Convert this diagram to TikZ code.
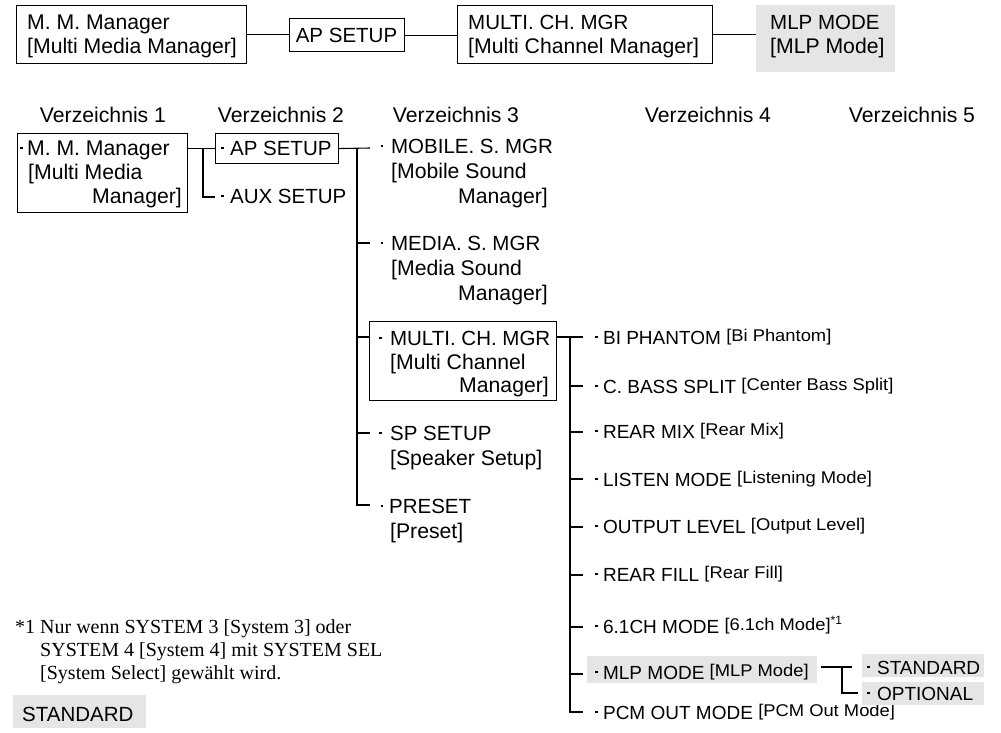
\documentclass[tikz,border=0pt]{standalone}
\usepackage{fontspec}
\setmainfont{Liberation Sans}
\newfontfamily\brfont[FakeStretch=1.08]{Liberation Sans}
\newfontfamily\ftnfont{Liberation Serif}
\definecolor{boxgray}{RGB}{229,229,229}
\newcommand\fm{\fontsize{20.5}{24}\selectfont}
\newcommand\fl{\fontsize{21.2}{24}\selectfont}
\newcommand\ff{\fontsize{19}{23}\selectfont}
\newcommand\fb{\brfont\fontsize{17}{19}\selectfont}
\newcommand\bul[1]{\rule[5.6pt]{2.6pt}{2.6pt}\hspace{#1pt}}
\newcommand\br[1]{\raisebox{2.5pt}{\fb[#1]}}
\begin{document}
\begin{tikzpicture}[x=1pt,y=-1pt,
  txt/.style={inner sep=0pt, anchor=base west, font=\fm},
  low/.style={txt, font=\fl},
  lowr/.style={low, anchor=base east},
  lowc/.style={low, anchor=base},
  txtc/.style={txt, anchor=base},
  itm/.style={txt, font=\ff},
  frame/.style={draw, line width=1.1pt, inner sep=0pt, anchor=north west},
  shade/.style={fill=boxgray, inner sep=0pt, anchor=north west},
  wire/.style={line width=1.1pt}]
\useasboundingbox (0,0) rectangle (1001,732);

% ---------- top row ----------
\node[frame, minimum width=230pt, minimum height=58pt] (t1) at (16,5) {};
\node[low] (t1a) at (27,29) {M. M. Manager};
\node[low] (t1b) at (27,53) {[Multi Media Manager]};
\node[frame, minimum width=115pt, minimum height=33pt] (t2) at (289,18) {};
\node[txtc] (t2a) at (346.5,42) {AP SETUP};
\node[frame, minimum width=255pt, minimum height=58pt] (t3) at (457,5) {};
\node[txt] (t3a) at (468,29) {MULTI. CH. MGR};
\node[low] (t3b) at (468,53) {[Multi Channel Manager]};
\node[shade, minimum width=139pt, minimum height=67pt] (t4) at (756,5) {};
\node[txt] (t4a) at (770,29) {MLP MODE};
\node[low] (t4b) at (770,53) {[MLP Mode]};
\draw[wire] (t1.east) -- (t1.east -| t2.west);
\draw[wire] (t2.east) -- (t2.east -| t3.west);
\draw[wire] (t3.east) -- (t3.east -| t4.west);

% ---------- headers ----------
\node[lowc] (h1) at (103,122) {Verzeichnis 1};
\node[lowc] (h2) at (281,122) {Verzeichnis 2};
\node[lowc] (h3) at (456,122) {Verzeichnis 3};
\node[lowc] (h4) at (708,122) {Verzeichnis 4};
\node[lowc] (h5) at (912,122) {Verzeichnis 5};

% ---------- level 1 ----------
\node[frame, minimum width=170pt, minimum height=79pt] (l1) at (17,133) {};
\node[low] (l1a) at (20,155) {\bul{4.3}M. M. Manager};
\node[low] (l1b) at (28,179) {[Multi Media};
\node[lowr] (l1c) at (182,203) {Manager]};

% ---------- level 2 ----------
\node[frame, minimum width=123pt, minimum height=30pt] (ap) at (215,133) {};
\node[txt] (apt) at (220.7,155) {\bul{6.6}AP SETUP};
\node[txt] (aux) at (220.7,203) {\bul{6.6}AUX SETUP};
\coordinate (bus2) at (203,148);
\coordinate (auxend) at (215,197);
\draw[wire] (ap.west -| l1.east) -- (ap.west);
\draw[wire] (bus2) |- (auxend);

% ---------- level 3 ----------
\coordinate (bus3) at (357,148);
\coordinate (mobend) at (370,148);
\coordinate (medend) at (370,243);
\coordinate (mulin) at (369,337);
\coordinate (spend) at (370,433);
\coordinate (preend) at (370,505);
\draw[wire] (ap.east) -- (mobend);
\draw[wire] (bus3) |- (preend);
\draw[wire] (bus3 |- medend) -- (medend);
\draw[wire] (bus3 |- mulin) -- (mulin);
\draw[wire] (bus3 |- spend) -- (spend);

\node[txt] (mob1) at (380.5,153) {\bul{7.8}MOBILE. S. MGR};
\node[low] (mob2) at (391,178) {[Mobile Sound};
\node[lowr] (mob3) at (548,203) {Manager]};
\node[txt] (med1) at (380.5,250) {\bul{7.8}MEDIA. S. MGR};
\node[low] (med2) at (391,275) {[Media Sound};
\node[lowr] (med3) at (548,300) {Manager]};
\node[frame, minimum width=187pt, minimum height=79pt] (mul) at (369,321) {};
\node[txt] (mul1) at (378.7,345) {\bul{8.6}MULTI. CH. MGR};
\node[low] (mul2) at (390,369) {[Multi Channel};
\node[lowr] (mul3) at (549,392) {Manager]};
\node[txt] (sp1) at (378.7,440) {\bul{8.6}SP SETUP};
\node[low] (sp2) at (390,465) {[Speaker Setup]};
\node[txt] (pre1) at (380.5,513) {\bul{5.8}PRESET};
\node[low] (pre2) at (390,538) {[Preset]};

% ---------- level 4 ----------
\coordinate (mulout) at (556,337);
\coordinate (bus4) at (570,337);
\coordinate (e1) at (583,337);
\coordinate (e2) at (583,386);
\coordinate (e3) at (583,432);
\coordinate (e4) at (583,479);
\coordinate (e5) at (583,527);
\coordinate (e6) at (583,575);
\coordinate (e7) at (583,627);
\coordinate (e8) at (583,674);
\coordinate (e9) at (583,712);
\draw[wire] (mulout) -- (e1);
\draw[wire] (bus4) |- (e9);
\foreach \k in {2,...,8} {\draw[wire] (bus4 |- e\k) -- (e\k);}

\node[itm] (r1) at (595,344) {\bul{5.3}BI PHANTOM \br{Bi Phantom}};
\node[itm] (r2) at (595,393) {\bul{5.3}C. BASS SPLIT \br{Center Bass Split}};
\node[itm] (r3) at (595,438) {\bul{5.3}REAR MIX \br{Rear Mix}};
\node[itm] (r4) at (595,486) {\bul{5.3}LISTEN MODE \br{Listening Mode}};
\node[itm] (r5) at (595,533) {\bul{5.3}OUTPUT LEVEL \br{Output Level}};
\node[itm] (r6) at (595,581) {\bul{5.3}REAR FILL \br{Rear Fill}};
\node[itm] (r7) at (595,633) {\bul{5.3}6.1CH MODE \br{6.1ch Mode}\raisebox{9pt}{\fontsize{12}{12}\selectfont *1}};
\node[shade, minimum width=230pt, minimum height=27pt] (mlpbg) at (587,656) {};
\node[itm] (r8) at (595,679) {\bul{5.3}MLP MODE \br{MLP Mode}};
\node[itm] (r9) at (595,719) {\bul{5.3}PCM OUT MODE \br{PCM Out Mode}};

% ---------- level 5 ----------
\node[shade, minimum width=122pt, minimum height=23pt] (stdbg) at (862,654) {};
\node[itm] (std) at (866.7,674) {\bul{7.6}STANDARD};
\node[shade, minimum width=122pt, minimum height=23pt] (optbg) at (862,682) {};
\node[itm] (opt) at (866.7,700) {\bul{7.6}OPTIONAL};
\coordinate (m0) at (821,667);
\coordinate (m1) at (852,667);
\coordinate (bus5) at (842,667);
\coordinate (m2) at (858,693);
\draw[wire] (m0) -- (m1);
\draw[wire] (bus5) |- (m2);

% ---------- footnote ----------
\tikzset{fn/.style={txt, font=\ftnfont\fontsize{20}{22}\selectfont}}
\node[fn] (fn0) at (15,633) {*1};
\node[fn] (fn1) at (40,633) {Nur wenn SYSTEM 3 [System 3] oder};
\node[fn] (fn2) at (40,656) {SYSTEM 4 [System 4] mit SYSTEM SEL};
\node[fn] (fn3) at (40,679) {[System Select] gewählt wird.};

% ---------- legend ----------
\node[shade, minimum width=133pt, minimum height=33pt] (leg) at (13,695) {};
\node[txt] (legt) at (22,721) {STANDARD};
\end{tikzpicture}
\end{document}
